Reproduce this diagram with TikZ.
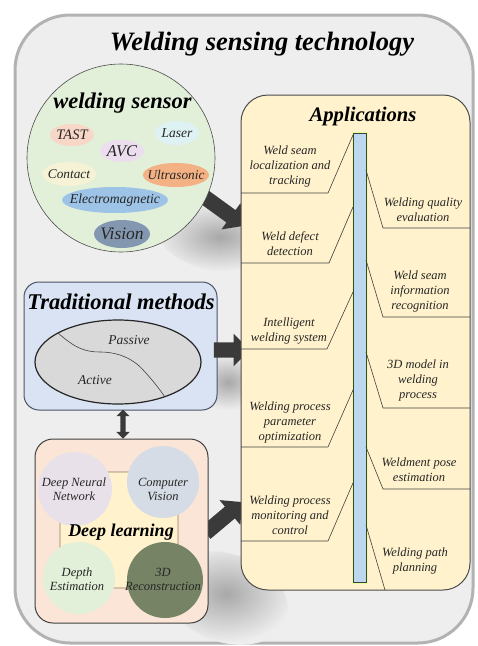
\documentclass[tikz,border=0pt]{standalone}
\usepackage{fontspec}
\setmainfont{Liberation Serif}
\usetikzlibrary{shapes.geometric,shapes.arrows}
\definecolor{outerbg}{HTML}{EEEEEE}
\definecolor{appbg}{HTML}{FFF2CC}
\definecolor{sensbg}{HTML}{E2EFD9}
\definecolor{tradbg}{HTML}{DAE3F3}
\definecolor{deepbg}{HTML}{FBE5D6}
\definecolor{cTAST}{HTML}{F8D6C8}
\definecolor{cLaser}{HTML}{DEF2F4}
\definecolor{cAVC}{HTML}{ECDEEE}
\definecolor{cContact}{HTML}{F5F2D6}
\definecolor{cUltra}{HTML}{F4B183}
\definecolor{cElec}{HTML}{9DC3E6}
\definecolor{cVision}{HTML}{8497B0}
\definecolor{cDNN}{HTML}{E9E1EA}
\definecolor{cCV}{HTML}{D6DCE5}
\definecolor{cDE}{HTML}{E2F0D9}
\definecolor{cRec}{HTML}{768365}
\definecolor{barbg}{HTML}{BDD7EE}
\definecolor{txt}{HTML}{262626}
\definecolor{arr}{HTML}{3A3A3A}
\definecolor{brk}{HTML}{8A7A66}
\definecolor{tradline}{HTML}{4A5568}
\definecolor{shadowc}{HTML}{A8A8A8}
\begin{document}
\begin{tikzpicture}[x=1pt,y=-1pt,
  itm/.style={font=\fontsize{12.5}{15}\selectfont\itshape, align=center, inner sep=0pt, text=txt},
  lab/.style={font=\fontsize{#1}{#1}\selectfont\itshape, inner sep=0pt, text=txt},
  ttl/.style={font=\fontsize{#1}{#1}\selectfont\bfseries\itshape, inner sep=0pt, text=black},
  dl/.style={font=\fontsize{12.5}{14}\selectfont\itshape, align=center, inner sep=0pt, text=txt},
  conn/.style={draw=black!75, line width=0.6pt},
  blockarrow/.style={single arrow, fill=arr, draw=none, inner sep=7.5pt, single arrow head extend=8.5pt, minimum height=#1},
  softshadow/.style={inner color=shadowc, outer color=outerbg}
]
\useasboundingbox (0,0) rectangle (478,646);
% outer panel
\draw[line width=3pt, draw=gray!60, fill=outerbg, rounded corners=55pt] (15,15) rectangle (473,643);
\node[ttl=26.5] (title) at (262,44.5) {Welding sensing technology};

% soft shadows
\shade[softshadow, rotate around={-10:(220,240)}] (220,240) ellipse[x radius=62pt, y radius=32pt];
\shade[softshadow] (228,382) ellipse[x radius=36pt, y radius=28pt];
\shade[softshadow, rotate around={-20:(226,598)}] (226,598) ellipse[x radius=64pt, y radius=44pt];

% block arrows (under the boxes)
\node[blockarrow=58pt, rotate=-36] (arrA) at (217.5,206.5) {};
\node[blockarrow=48pt, rotate=40] (arrC) at (221,520) {};

% welding sensor circle
\draw[draw=black!70, line width=0.6pt, fill=sensbg] (121,158) circle[radius=94pt];
\node[ttl=22.5] (sensT) at (122.5,103) {welding sensor};
\fill[cTAST] (72,135) ellipse[x radius=22pt, y radius=11pt];
\node[lab=14.5] (tast) at (72,135) {TAST};
\fill[cLaser] (177,133) ellipse[x radius=22pt, y radius=12pt];
\node[lab=13.5] (laser) at (177,133) {Laser};
\fill[cAVC] (122,151) ellipse[x radius=22pt, y radius=11pt];
\node[lab=16.5] (avc) at (122,151) {AVC};
\fill[cContact] (69,174) ellipse[x radius=27pt, y radius=12pt];
\node[lab=13.3] (contact) at (69,174) {Contact};
\fill[cUltra] (176,175) ellipse[x radius=33pt, y radius=12pt];
\node[lab=13.3] (ultra) at (176,175) {Ultrasonic};
\fill[cElec] (115,200) ellipse[x radius=53pt, y radius=13pt];
\node[lab=13.7] (elec) at (115,200) {Electromagnetic};
\fill[cVision] (122,234) ellipse[x radius=28pt, y radius=14pt];
\node[lab=17.5] (vision) at (122,234) {Vision};

% traditional methods
\draw[draw=tradline, line width=1pt, fill=tradbg, rounded corners=15pt] (24,282) rectangle (217,410);
\node[ttl=22.5] (tradT) at (121,302) {Traditional methods};
\draw[draw=black!85, line width=1.2pt, fill=black!15] (118,362) ellipse[x radius=83pt, y radius=42pt];
\draw[draw=black!75, line width=0.6pt] (58,333) .. controls (75,348) and (85,352) .. (100,352)
  .. controls (120,352) and (135,360) .. (145,372) .. controls (155,383) and (160,390) .. (165,397);
\node[lab=13.5] (passive) at (129,340) {Passive};
\node[lab=13.5] (active) at (95,380) {Active};
\node[blockarrow=36pt] (arrB) at (228,350) {};

% double arrow
\node[double arrow, fill=arr, draw=none, inner sep=2.5pt, double arrow head extend=4pt,
      minimum height=29pt, rotate=90] (darr) at (123,424) {};

% deep learning
\draw[draw=black!75, line width=1pt, fill=deepbg, rounded corners=18pt] (35,439) rectangle (208,623);
\draw[draw=brk, line width=0.8pt, fill=appbg, rounded corners=12pt] (60,472) rectangle (178,588);
\fill[cDNN] (75,489) circle[radius=37pt];
\fill[cCV] (163,482) circle[radius=36pt];
\fill[cDE] (79,578) circle[radius=36pt];
\fill[cRec] (165,580) circle[radius=38pt];
\node[dl] (dnn) at (74,489) {Deep Neural\\Network};
\node[dl] (cv) at (163,489) {Computer\\Vision};
\node[dl] (de) at (77,579) {Depth\\Estimation};
\node[dl] (rec) at (163,579) {3D\\Reconstruction};
\node[ttl=18] (deepT) at (121,532) {Deep learning};

% applications
\draw[draw=black!70, line width=1pt, fill=appbg, rounded corners=27pt] (241,95) rectangle (470,590);
\node[ttl=20.7] (appT) at (363,117) {Applications};
\draw[draw=green!25!yellow!40, line width=3pt] (353,133) rectangle (366,582);
\draw[draw=black!75, line width=0.8pt, fill=barbg] (353,133) rectangle (366,582);

% left items
\node[itm] (l1) at (290,166) {Weld seam\\localization and\\tracking};
\node[itm] (l2) at (290,244) {Weld defect\\detection};
\node[itm] (l3) at (289,331) {Intelligent\\welding system};
\node[itm] (l4) at (290,422) {Welding process\\parameter\\optimization};
\node[itm] (l5) at (290,515) {Welding process\\monitoring and\\control};
\draw[conn] (241,193) -- (328,193) -- (353,135);
\draw[conn] (241,263) -- (329,263) -- (353,207);
\draw[conn] (241,349) -- (327,349) -- (353,292);
\draw[conn] (241,447) -- (328,447) -- (353,390);
\draw[conn] (241,541) -- (328,541) -- (353,483);

% right items
\node[itm] (r1) at (423,210) {Welding quality\\evaluation};
\node[itm] (r2) at (420,291) {Weld seam\\information\\recognition};
\node[itm] (r3) at (418,380) {3D model in\\welding\\process};
\node[itm] (r4) at (419,470) {Weldment pose\\estimation};
\node[itm] (r5) at (415,561) {Welding path\\planning};
\draw[conn] (366,170) -- (383,228) -- (470,228);
\draw[conn] (366,260) -- (383,317) -- (470,317);
\draw[conn] (366,352) -- (383,408) -- (470,408);
\draw[conn] (366,447) -- (383,489) -- (470,489);
\draw[conn] (366,525) -- (385,590);
\end{tikzpicture}
\end{document}
